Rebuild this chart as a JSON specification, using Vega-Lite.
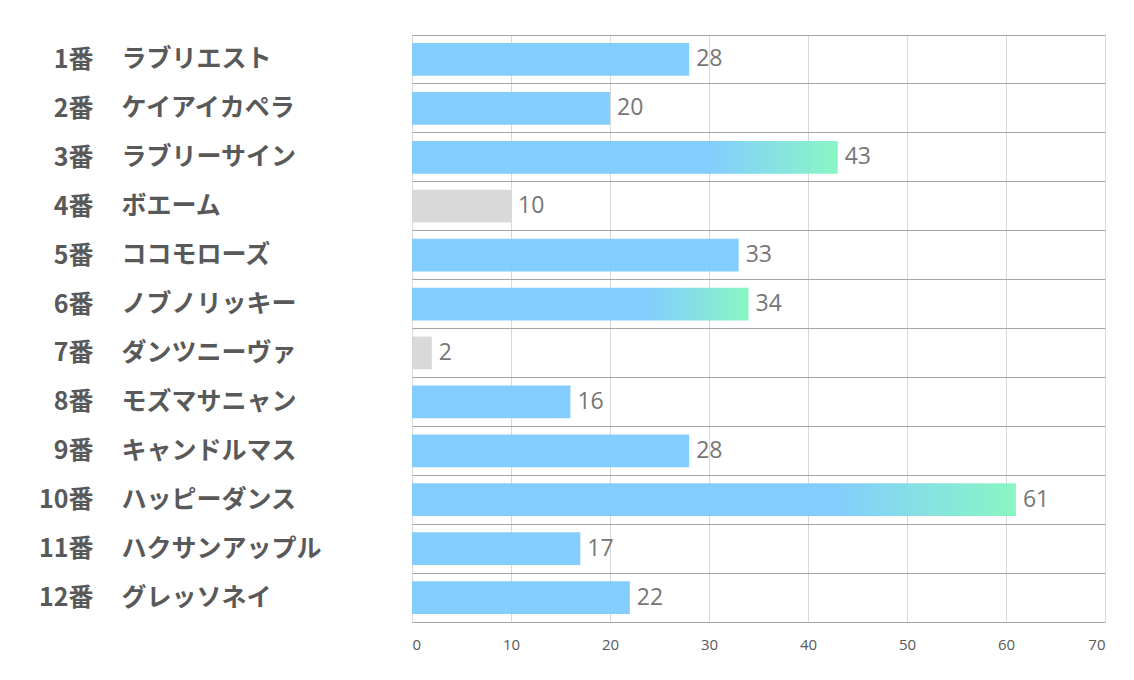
{
  "$schema": "https://vega.github.io/schema/vega-lite/v6.json",
  "width": 693,
  "height": 587,
  "autosize": "none",
  "padding": {"left": 412, "top": 35, "right": 29, "bottom": 58},
  "background": "white",
  "config": {"view": {"stroke": null}},
  "data": {"values": [
    {"num": "1番", "name": "ラブリエスト", "value": 28, "group": "normal"},
    {"num": "2番", "name": "ケイアイカペラ", "value": 20, "group": "normal"},
    {"num": "3番", "name": "ラブリーサイン", "value": 43, "group": "top"},
    {"num": "4番", "name": "ボエーム", "value": 10, "group": "low"},
    {"num": "5番", "name": "ココモローズ", "value": 33, "group": "normal"},
    {"num": "6番", "name": "ノブノリッキー", "value": 34, "group": "top"},
    {"num": "7番", "name": "ダンツニーヴァ", "value": 2, "group": "low"},
    {"num": "8番", "name": "モズマサニャン", "value": 16, "group": "normal"},
    {"num": "9番", "name": "キャンドルマス", "value": 28, "group": "normal"},
    {"num": "10番", "name": "ハッピーダンス", "value": 61, "group": "top"},
    {"num": "11番", "name": "ハクサンアップル", "value": 17, "group": "normal"},
    {"num": "12番", "name": "グレッソネイ", "value": 22, "group": "normal"}
  ]},
  "layer": [
    {
      "encoding": {
        "y": {
          "field": "name", "type": "nominal",
          "scale": {"domain": ["ラブリエスト","ケイアイカペラ","ラブリーサイン","ボエーム","ココモローズ","ノブノリッキー","ダンツニーヴァ","モズマサニャン","キャンドルマス","ハッピーダンス","ハクサンアップル","グレッソネイ"], "paddingInner": 0, "paddingOuter": 0},
          "axis": {"orient": "left", "title": null, "domain": false, "ticks": false, "tickSize": 0, "labelAlign": "left", "labelBaseline": "middle", "labelPadding": 291, "labelLimit": 400, "labelFont": "Noto Sans CJK JP", "labelFontSize": 25, "labelFontWeight": "bold", "labelColor": "#595959", "grid": true, "bandPosition": 0, "gridColor": "#A6A6A6", "gridWidth": 1}
        },
        "x": {
          "field": "value", "type": "quantitative",
          "scale": {"domain": [0, 70], "nice": false},
          "axis": {"title": null, "values": [0,10,20,30,40,50,60,70], "ticks": false, "tickSize": 0, "labelPadding": 15, "labelFont": "Open Sans", "labelFontSize": 15, "labelColor": "#595959", "domain": true, "domainColor": "#A6A6A6", "domainWidth": 1, "gridColor": "#D9D9D9", "gridWidth": 1}
        }
      },
      "layer": [
        {
          "transform": [{"filter": "datum.group !== 'top'"}],
          "mark": {"type": "bar", "height": {"band": 0.67}, "opacity": 0.92},
          "encoding": {
            "color": {"field": "group", "type": "nominal", "scale": {"domain": ["normal", "low"], "range": ["#78C9FF", "#D6D6D6"]}, "legend": null}
          }
        },
        {
          "transform": [{"filter": "datum.group === 'top'"}],
          "mark": {"type": "bar", "height": {"band": 0.67}, "opacity": 0.92,
            "color": {"gradient": "linear", "x1": 0, "x2": 1, "y1": 0, "y2": 0,
              "stops": [{"offset": 0, "color": "#78C9FF"}, {"offset": 0.7, "color": "#78C9FF"}, {"offset": 1, "color": "#7FF5BE"}]}}
        }
      ]
    },
    {
      "mark": {"type": "text", "align": "left", "baseline": "middle", "dx": 7, "font": "Open Sans", "fontSize": 23, "color": "#767676"},
      "encoding": {
        "y": {
          "field": "num", "type": "nominal",
          "scale": {"domain": ["1番","2番","3番","4番","5番","6番","7番","8番","9番","10番","11番","12番"], "paddingInner": 0, "paddingOuter": 0},
          "axis": {"orient": "left", "title": null, "domain": false, "ticks": false, "tickSize": 0, "grid": false, "labelAlign": "right", "labelBaseline": "middle", "labelPadding": 319, "labelLimit": 400, "labelFont": "Noto Sans CJK JP", "labelFontSize": 25, "labelFontWeight": "bold", "labelColor": "#595959"}
        },
        "x": {
          "field": "value", "type": "quantitative",
          "scale": {"domain": [0, 70], "nice": false},
          "axis": {"title": null, "values": [0,10,20,30,40,50,60,70], "ticks": false, "tickSize": 0, "labelPadding": 15, "labelFont": "Open Sans", "labelFontSize": 15, "labelColor": "#595959", "domain": true, "domainColor": "#A6A6A6", "domainWidth": 1, "gridColor": "#D9D9D9", "gridWidth": 1}
        },
        "text": {"field": "value", "type": "quantitative"}
      }
    }
  ],
  "resolve": {"scale": {"y": "independent"}, "axis": {"y": "independent"}}
}
